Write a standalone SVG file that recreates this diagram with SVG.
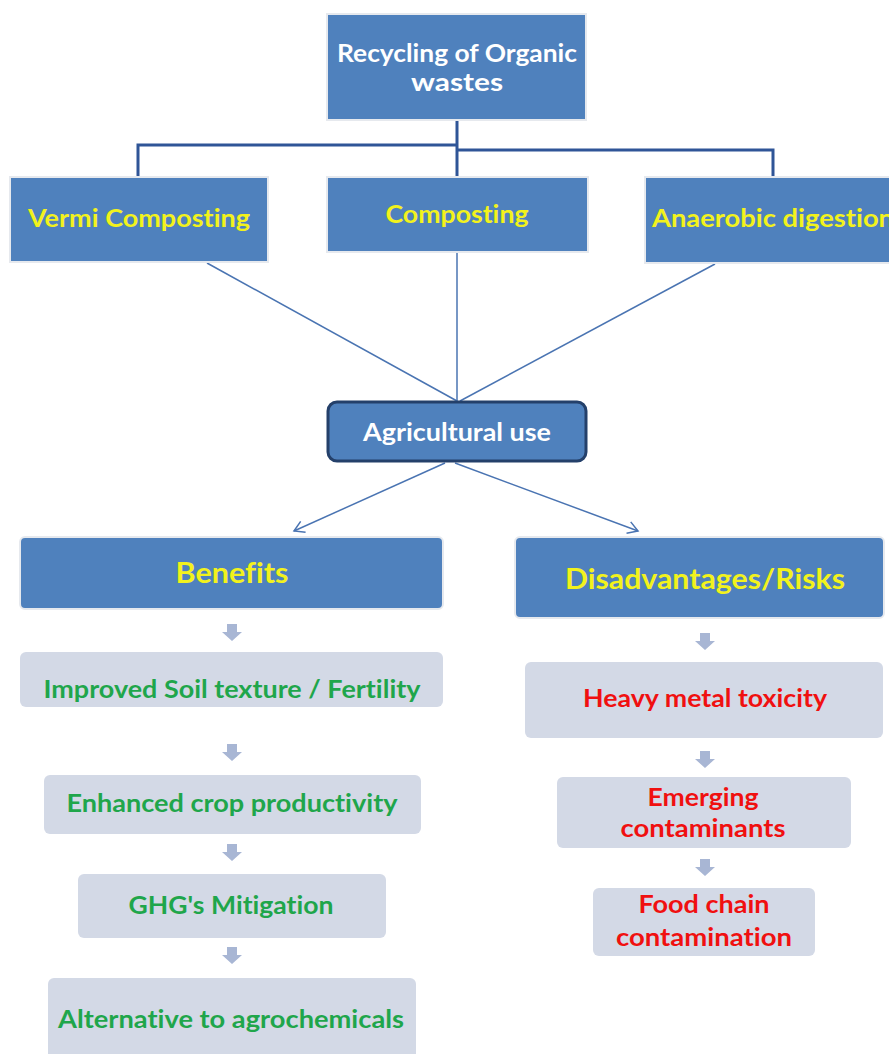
<svg xmlns="http://www.w3.org/2000/svg" width="889" height="1054" viewBox="0 0 889 1054">
<defs>
<style>
.blue{fill:#4f81bd;stroke:#e6e9ee;stroke-width:2}
.lite{fill:#d3d9e6}
.t{font-family:Lato,"Open Sans","Liberation Sans",sans-serif;font-weight:bold;text-anchor:middle;font-variant-ligatures:none}
.w{fill:#ffffff;font-size:24px}
.y{fill:#f2f21c;font-size:25px}
.yb{fill:#f2f21c;font-size:28px}
.g{fill:#1fa64b;font-size:25px}
.r{fill:#f01010;font-size:25px}
.tree{stroke:#2f5597;stroke-width:3;fill:none}
.thin{stroke:#4a74b2;stroke-width:1.5;fill:none}
.da{fill:#a8b6d4}
</style>
<marker id="open" markerWidth="14" markerHeight="14" refX="11" refY="7" orient="auto" markerUnits="userSpaceOnUse">
<path d="M1,1 L11,7 L1,13" fill="none" stroke="#4a74b2" stroke-width="1.5"/>
</marker>
</defs>
<rect width="889" height="1054" fill="#ffffff"/>

<g id="connectors">
<path class="tree" d="M457,121 V176"/>
<path class="tree" d="M138,176 V145 H457"/>
<path class="tree" d="M457,150 H773 V176"/>
<path class="thin" d="M207,263 L457,401"/>
<path class="thin" d="M457,253 V401"/>
<path class="thin" d="M715,264 L460,401"/>
<path class="thin" d="M445,463 L294,531" marker-end="url(#open)"/>
<path class="thin" d="M455,463 L638,531" marker-end="url(#open)"/>
<path class="da" d="M227,624 h10 v8 h5 l-10,9 l-10,-9 h5 z"/>
<path class="da" d="M227,744 h10 v8 h5 l-10,9 l-10,-9 h5 z"/>
<path class="da" d="M227,844 h10 v8 h5 l-10,9 l-10,-9 h5 z"/>
<path class="da" d="M227,947 h10 v8 h5 l-10,9 l-10,-9 h5 z"/>
<path class="da" d="M700,633 h10 v8 h5 l-10,9 l-10,-9 h5 z"/>
<path class="da" d="M700,751 h10 v8 h5 l-10,9 l-10,-9 h5 z"/>
<path class="da" d="M700,859 h10 v8 h5 l-10,9 l-10,-9 h5 z"/>
</g>

<g id="recycling">
<rect class="blue" x="327" y="14" width="259" height="106"/>
<text class="t w" x="457" y="62" textLength="240" lengthAdjust="spacingAndGlyphs">Recycling of Organic</text>
<text class="t w" x="457" y="91" textLength="92" lengthAdjust="spacingAndGlyphs">wastes</text>
</g>

<g id="vermi">
<rect class="blue" x="10" y="177" width="258" height="85"/>
<text class="t y" x="139" y="227" textLength="222" lengthAdjust="spacingAndGlyphs">Vermi Composting</text>
</g>

<g id="composting">
<rect class="blue" x="327" y="177" width="261" height="75"/>
<text class="t y" x="457" y="223" textLength="143" lengthAdjust="spacingAndGlyphs">Composting</text>
</g>

<g id="anaerobic">
<rect class="blue" x="645" y="177" width="250" height="86"/>
<text class="t y" x="652" y="227" style="text-anchor:start" textLength="242" lengthAdjust="spacingAndGlyphs">Anaerobic digestion</text>
</g>

<g id="agri">
<rect x="328" y="402" width="258" height="59" rx="9" fill="#4f81bd" stroke="#24406a" stroke-width="3"/>
<text class="t w" x="457" y="441" textLength="188" lengthAdjust="spacingAndGlyphs">Agricultural use</text>
</g>

<g id="benefits">
<rect class="blue" x="20" y="537" width="423" height="72" rx="5"/>
<text class="t yb" x="232" y="583" textLength="113" lengthAdjust="spacingAndGlyphs">Benefits</text>
</g>

<g id="risks">
<rect class="blue" x="515" y="537" width="369" height="81" rx="5"/>
<text class="t yb" x="705" y="589" textLength="280" lengthAdjust="spacingAndGlyphs">Disadvantages/Risks</text>
</g>

<g id="soil">
<rect class="lite" x="20" y="652" width="423" height="55" rx="6"/>
<text class="t g" x="232" y="698" textLength="377" lengthAdjust="spacingAndGlyphs">Improved Soil texture / Fertility</text>
</g>

<g id="crop">
<rect class="lite" x="44" y="775" width="377" height="59" rx="6"/>
<text class="t g" x="232" y="812" textLength="331" lengthAdjust="spacingAndGlyphs">Enhanced crop productivity</text>
</g>

<g id="ghg">
<rect class="lite" x="78" y="874" width="308" height="64" rx="6"/>
<text class="t g" x="231" y="914" textLength="205" lengthAdjust="spacingAndGlyphs">GHG's Mitigation</text>
</g>

<g id="alt">
<rect class="lite" x="48" y="978" width="368" height="82" rx="6"/>
<text class="t g" x="231" y="1028" textLength="346" lengthAdjust="spacingAndGlyphs">Alternative to agrochemicals</text>
</g>

<g id="heavy">
<rect class="lite" x="525" y="662" width="358" height="76" rx="6"/>
<text class="t r" x="705" y="707" textLength="244" lengthAdjust="spacingAndGlyphs">Heavy metal toxicity</text>
</g>

<g id="emerging">
<rect class="lite" x="557" y="777" width="294" height="71" rx="6"/>
<text class="t r" x="703" y="806" textLength="111" lengthAdjust="spacingAndGlyphs">Emerging</text>
<text class="t r" x="703" y="837" textLength="165" lengthAdjust="spacingAndGlyphs">contaminants</text>
</g>

<g id="food">
<rect class="lite" x="593" y="888" width="222" height="68" rx="6"/>
<text class="t r" x="704" y="913" textLength="131" lengthAdjust="spacingAndGlyphs">Food chain</text>
<text class="t r" x="704" y="946" textLength="176" lengthAdjust="spacingAndGlyphs">contamination</text>
</g>
</svg>
